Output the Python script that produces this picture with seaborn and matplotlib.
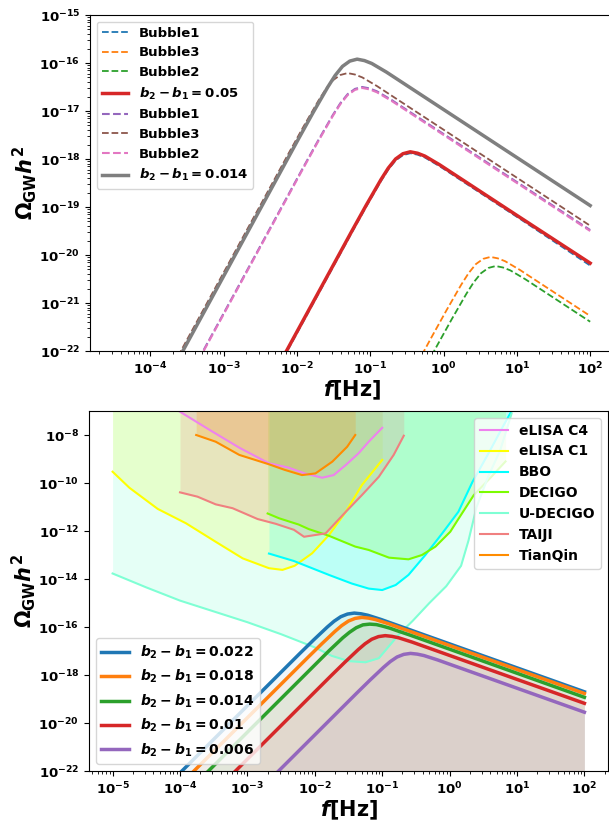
import numpy as np
import seaborn as sns
import matplotlib.pyplot as plt
from matplotlib.ticker import NullLocator

# ========== STYLE ==========
plt.rcParams['font.family'] = ['DejaVu Sans']
plt.rcParams['font.weight'] = 'bold'
plt.rcParams['axes.labelweight'] = 'bold'
plt.rcParams['mathtext.fontset'] = 'custom'
plt.rcParams['mathtext.rm'] = 'DejaVu Sans:bold'
plt.rcParams['mathtext.bf'] = 'DejaVu Sans:bold'
plt.rcParams['mathtext.it'] = 'DejaVu Sans:italic:bold'

# ========== DATA (log10 f [Hz], log10 Omega h^2) ==========

# top panel: bubble spectra
top_red_f = [-4.5, -2.955, -1.955, -1.455, -1.255, -1.055, -0.855, -0.755, -0.655, -0.555, -0.455,
             -0.355, -0.255, -0.155, -0.055, 0.145, 0.345, 0.545, 1.045, 2.0]
top_red_y = [-28.60, -24.27, -21.47, -20.07, -19.51, -18.96, -18.43, -18.19, -18.00, -17.89, -17.85,
             -17.88, -17.94, -18.03, -18.12, -18.32, -18.52, -18.72, -19.22, -20.17]
top_blue_y = [-28.63, -24.30, -21.50, -20.10, -19.54, -18.99, -18.46, -18.22, -18.03, -17.92, -17.88,
              -17.91, -17.97, -18.06, -18.15, -18.35, -18.55, -18.75, -19.25, -20.22]

top_orange_f = [-1.36, -0.86, -0.36, -0.16, 0.04, 0.24, 0.34, 0.44, 0.54, 0.64, 0.74, 0.84, 0.94,
                1.04, 1.24, 1.44, 1.64, 2.0]
top_orange_y = [-25.06, -23.66, -22.26, -21.70, -21.15, -20.62, -20.38, -20.19, -20.08, -20.04,
                -20.07, -20.13, -20.22, -20.31, -20.51, -20.71, -20.91, -21.27]

top_green_f = [-1.29, -0.79, -0.29, -0.09, 0.11, 0.31, 0.41, 0.51, 0.61, 0.71, 0.81, 0.91, 1.01,
               1.11, 1.31, 1.51, 1.71, 2.0]
top_green_y = [-25.25, -23.85, -22.45, -21.89, -21.34, -20.81, -20.57, -20.38, -20.27, -20.23,
               -20.26, -20.32, -20.41, -20.50, -20.70, -20.90, -21.10, -21.39]

top_gray_f = [-4.5, -3.68, -2.68, -2.18, -1.98, -1.78, -1.58, -1.48, -1.38, -1.28, -1.18, -1.08,
              -0.98, -0.88, -0.78, -0.58, -0.38, -0.18, 0.32, 2.0]
top_gray_y = [-24.64, -22.34, -19.54, -18.14, -17.58, -17.03, -16.50, -16.26, -16.07, -15.96, -15.92,
              -15.95, -16.01, -16.10, -16.19, -16.39, -16.59, -16.79, -17.29, -18.97]

top_brown_f = [-4.5, -3.81, -2.81, -2.31, -2.11, -1.91, -1.71, -1.61, -1.51, -1.41, -1.31, -1.21,
               -1.11, -1.01, -0.91, -0.71, -0.51, -0.31, 0.19, 2.0]
top_brown_y = [-24.56, -22.63, -19.83, -18.43, -17.87, -17.32, -16.79, -16.55, -16.36, -16.25, -16.21,
               -16.24, -16.30, -16.39, -16.48, -16.68, -16.88, -17.08, -17.58, -19.39]

top_purple_f = [-4.5, -3.61, -2.61, -2.11, -1.91, -1.71, -1.51, -1.41, -1.31, -1.21, -1.11, -1.01,
                -0.91, -0.81, -0.71, -0.51, -0.31, -0.11, 0.39, 2.0]
top_purple_y = [-25.41, -22.92, -20.12, -18.72, -18.16, -17.61, -17.08, -16.84, -16.65, -16.54, -16.50,
                -16.53, -16.59, -16.68, -16.77, -16.97, -17.17, -17.37, -17.87, -19.48]
top_pink_y = [-25.43, -22.94, -20.14, -18.74, -18.18, -17.63, -17.10, -16.86, -16.67, -16.56, -16.52,
              -16.55, -16.61, -16.70, -16.79, -16.99, -17.19, -17.39, -17.89, -19.50]
top_xticks = [1e-4, 1e-3, 1e-2, 1e-1, 1e0, 1e1, 1e2]

# bottom panel: spectra for several b2-b1
spec_labels = ['0.022', '0.018', '0.014', '0.01', '0.006']
spec_f = [
    [-5.0, -3.914, -2.914, -2.414, -2.214, -2.014, -1.814, -1.714, -1.614, -1.514, -1.414,
     -1.314, -1.214, -1.114, -1.014, -0.814, -0.614, -0.414, 0.086, 2.0],
    [-5.0, -3.8, -2.8, -2.3, -2.1, -1.9, -1.7, -1.6, -1.5, -1.4, -1.3,
     -1.2, -1.1, -1.0, -0.9, -0.7, -0.5, -0.3, 0.2, 2.0],
    [-5.0, -3.685, -2.685, -2.185, -1.985, -1.785, -1.585, -1.485, -1.385, -1.285, -1.185,
     -1.085, -0.985, -0.885, -0.785, -0.585, -0.385, -0.185, 0.315, 2.0],
    [-5.0, -3.455, -2.455, -1.955, -1.755, -1.555, -1.355, -1.255, -1.155, -1.055, -0.955,
     -0.855, -0.755, -0.655, -0.555, -0.355, -0.155, 0.045, 0.545, 2.0],
    [-5.0, -3.08, -2.08, -1.58, -1.38, -1.18, -0.98, -0.88, -0.78, -0.68, -0.58,
     -0.48, -0.38, -0.28, -0.18, 0.02, 0.22, 0.42, 0.92, 2.0],
]
spec_y = [
    [-24.88, -21.84, -19.04, -17.64, -17.08, -16.53, -16.00, -15.76, -15.57, -15.46, -15.42,
     -15.45, -15.51, -15.60, -15.69, -15.89, -16.09, -16.29, -16.79, -18.70],
    [-25.38, -22.02, -19.22, -17.82, -17.26, -16.71, -16.18, -15.94, -15.75, -15.64, -15.60,
     -15.63, -15.69, -15.78, -15.87, -16.07, -16.27, -16.47, -16.97, -18.77],
    [-25.98, -22.30, -19.50, -18.10, -17.54, -16.98, -16.45, -16.22, -16.03, -15.91, -15.88,
     -15.90, -15.97, -16.05, -16.15, -16.34, -16.54, -16.74, -17.24, -18.93],
    [-27.11, -22.78, -19.98, -18.58, -18.02, -17.47, -16.94, -16.70, -16.51, -16.40, -16.36,
     -16.39, -16.45, -16.54, -16.63, -16.83, -17.03, -17.23, -17.73, -19.18],
    [-28.90, -23.52, -20.72, -19.32, -18.76, -18.21, -17.68, -17.44, -17.25, -17.14, -17.10,
     -17.13, -17.19, -17.28, -17.37, -17.57, -17.77, -17.97, -18.47, -19.55],
]
bottom_xticks = [1e-5, 1e-4, 1e-3, 1e-2, 1e-1, 1e0, 1e1, 1e2]

# bottom panel: detector sensitivity curves
det_names = ['eLISA C4', 'eLISA C1', 'BBO', 'DECIGO', 'U-DECIGO', 'TAIJI', 'TianQin']
det_colors = ['violet', 'yellow', 'cyan', 'lawngreen', 'aquamarine', 'lightcoral', 'darkorange']
elisa_c4_f = [-4.0, -3.56, -3.12, -2.68, -2.4, -2.15, -1.89, -1.72, -1.54, -1.35, -1.20, -1.0]
elisa_c4_y = [-7.03, -7.79, -8.53, -9.18, -9.35, -9.6, -9.78, -9.67, -9.25, -8.76, -8.28, -7.70]
elisa_c1_f = [-5.0, -4.75, -4.33, -3.91, -3.47, -3.07, -2.68, -2.48, -2.3, -2.04, -1.79, -1.54, -1.30, -1.0]
elisa_c1_y = [-9.53, -10.2, -11.08, -11.68, -12.45, -13.14, -13.55, -13.62, -13.45, -12.93, -12.17, -11.2, -10.08, -9.04]
bbo_f = [-2.68, -2.31, -1.79, -1.45, -1.20, -1.0, -0.80, -0.61, -0.36, -0.11, 0.13, 0.34, 0.57, 0.80, 0.92]
bbo_y = [-12.94, -13.25, -13.83, -14.19, -14.4, -14.46, -14.25, -13.83, -13.0, -12.1, -11.2, -9.95, -8.8, -7.6, -7.0]
decigo_f = [-2.70, -2.53, -2.24, -2.09, -1.79, -1.40, -1.20, -0.90, -0.61, -0.41, -0.21, 0.01, 0.13, 0.36, 0.60, 0.83]
decigo_y = [-11.27, -11.47, -11.73, -11.92, -12.2, -12.65, -12.79, -13.11, -13.18, -13.0, -12.65, -12.03, -11.5, -10.5, -9.8, -9.1]
udecigo_f = [-5.0, -4.5, -4.0, -3.5, -3.0, -2.5, -2.0, -1.75, -1.5, -1.25, -1.05, -0.9, -0.75, -0.55,
             -0.3, -0.05, 0.17, 0.28, 0.4, 0.57, 0.75, 0.92]
udecigo_y = [-13.77, -14.35, -14.9, -15.35, -15.8, -16.3, -16.85, -17.2, -17.42, -17.47, -17.3, -16.8, -16.3,
             -15.75, -15.0, -14.3, -13.45, -12.4, -11.0, -9.75, -8.64, -7.1]
taiji_f = [-4.0, -3.74, -3.47, -3.22, -2.85, -2.58, -2.31, -2.16, -1.84, -1.54, -1.30, -1.05, -0.83, -0.68]
taiji_y = [-10.39, -10.57, -10.89, -11.05, -11.5, -11.7, -11.95, -12.24, -12.1, -11.2, -10.5, -9.74, -8.83, -8.03]
tianqin_f = [-3.76, -3.47, -3.12, -2.68, -2.45, -2.19, -1.99, -1.74, -1.52, -1.40]
tianqin_y = [-8.0, -8.28, -8.83, -9.22, -9.45, -9.67, -9.60, -9.11, -8.49, -8.0]
det_f = [elisa_c4_f, elisa_c1_f, bbo_f, decigo_f, udecigo_f, taiji_f, tianqin_f]
det_y = [elisa_c4_y, elisa_c1_y, bbo_y, decigo_y, udecigo_y, taiji_y, tianqin_y]


def p10(v):
    return 10.0 ** np.asarray(v, dtype=float)


def line(ax, f, y, **kw):
    sns.lineplot(x=p10(f), y=p10(y), ax=ax, **kw)


fig = plt.figure(figsize=(6.09, 8.21), dpi=100)

# ========== TOP PANEL ==========
ax1 = fig.add_axes([90 / 609, 1 - 351 / 821, 524 / 609, 336 / 821])
ax1.set_xscale('log')
ax1.set_yscale('log')

line(ax1, top_red_f, top_blue_y, color='C0', ls='--', lw=1.3, label='Bubble1')
line(ax1, top_orange_f, top_orange_y, color='C1', ls='--', lw=1.3, label='Bubble3')
line(ax1, top_green_f, top_green_y, color='C2', ls='--', lw=1.3, label='Bubble2')
line(ax1, top_red_f, top_red_y, color='C3', lw=2.5, label=r'$b_2-b_1=0.05$')
line(ax1, top_purple_f, top_purple_y, color='C4', ls='--', lw=1.5, label='Bubble1')
line(ax1, top_brown_f, top_brown_y, color='C5', ls='--', lw=1.3, label='Bubble3')
line(ax1, top_purple_f, top_pink_y, color='C6', ls='--', lw=1.5, label='Bubble2')
line(ax1, top_gray_f, top_gray_y, color='C7', lw=2.5, label=r'$b_2-b_1=0.014$')

ax1.set_xlim(10 ** -4.825, 10 ** 2.325)
ax1.set_ylim(1e-22, 1e-15)
ax1.set_xticks(top_xticks)
ax1.set_xlabel(r'$f$[Hz]', fontsize=15, labelpad=1)
ax1.set_ylabel(r'$\Omega_{\rm GW}h^2$', fontsize=15, labelpad=0)
ax1.tick_params(labelsize=9.5)
ax1.legend(loc='upper left', fontsize=9.5)

# ========== BOTTOM PANEL ==========
ax2 = fig.add_axes([89 / 609, 1 - 771 / 821, 519 / 609, 360 / 821])
ax2.set_xscale('log')
ax2.set_yscale('log')

det_handles = []
for name, col, f, y in zip(det_names, det_colors, det_f, det_y):
    ax2.fill_between(p10(f), p10(y), 1e-6, color=col, alpha=0.2, lw=0)
    line(ax2, f, y, color=col, lw=1.5, label=name)
    det_handles.append(ax2.lines[-1])

spec_handles = []
for i, (lab, f, y) in enumerate(zip(spec_labels, spec_f, spec_y)):
    ax2.fill_between(p10(f), p10(y), 1e-22, color=f'C{i}', alpha=0.07, lw=0)
    line(ax2, f, y, color=f'C{i}', lw=2.5, label=rf'$b_2-b_1={lab}$')
    spec_handles.append(ax2.lines[-1])

ax2.set_xlim(10 ** -5.35, 10 ** 2.35)
ax2.set_ylim(1e-22, 1e-7)
ax2.set_xticks(bottom_xticks)
ax2.set_yticks([10.0 ** k for k in range(-22, -7, 2)])
ax2.yaxis.set_minor_locator(NullLocator())
ax2.set_xlabel(r'$f$[Hz]', fontsize=15, labelpad=1)
ax2.set_ylabel(r'$\Omega_{\rm GW}h^2$', fontsize=15, labelpad=0)
ax2.tick_params(labelsize=9.5)

leg1 = ax2.legend(handles=det_handles, labels=det_names, loc='upper right', fontsize=10)
ax2.add_artist(leg1)
ax2.legend(handles=spec_handles, labels=[rf'$b_2-b_1={l}$' for l in spec_labels],
           loc='lower left', fontsize=10)

fig.savefig('out.png', dpi=100)
